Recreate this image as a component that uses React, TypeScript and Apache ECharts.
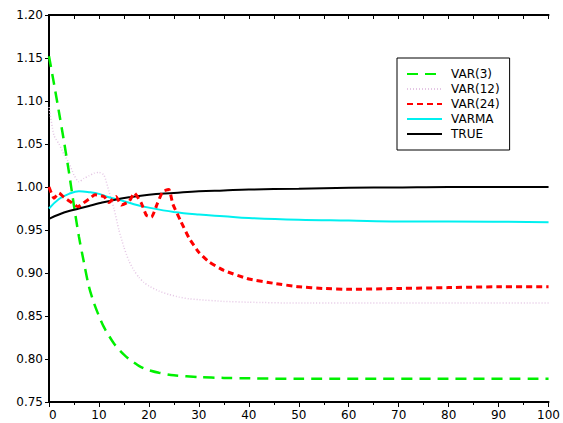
import React, { useEffect, useRef } from "react";
import * as echarts from "echarts";

const seriesNames = ["VAR(3)", "VAR(12)", "VAR(24)", "VARMA", "TRUE"];

const var3: [number, number][] = [
  [0, 1.152], [1, 1.12], [2, 1.087], [3, 1.053], [4, 1.017], [5, 0.978], [6, 0.942],
  [7, 0.912], [8, 0.884], [9, 0.865], [10, 0.85], [11, 0.837], [12, 0.827], [13, 0.818],
  [14, 0.811], [15, 0.805], [16, 0.8], [17, 0.796], [18, 0.792], [19, 0.789], [20, 0.787],
  [22, 0.784], [25, 0.781], [30, 0.779], [35, 0.778], [40, 0.7775], [50, 0.777], [100, 0.777],
];

const var12: [number, number][] = [
  [0, 1.093], [1, 1.06], [2, 1.05], [3, 1.038], [4, 1.028], [5, 1.014], [6, 1.006],
  [7, 1.01], [8, 1.013], [9, 1.016], [10, 1.017], [11, 1.014], [12, 0.995], [13, 0.975],
  [14, 0.95], [15, 0.93], [16, 0.914], [17, 0.903], [18, 0.895], [19, 0.889], [20, 0.885],
  [22, 0.879], [24, 0.875], [26, 0.872], [28, 0.87], [30, 0.869], [35, 0.867], [40, 0.866],
  [50, 0.865], [100, 0.865],
];

const var24: [number, number][] = [
  [0, 1.0], [1, 0.987], [2, 0.993], [3, 0.988], [4.5, 0.982], [5.8, 0.977], [6.8, 0.981],
  [8, 0.986], [9.2, 0.991], [11, 0.989], [12, 0.982], [13.4, 0.989], [14.5, 0.979],
  [16, 0.983], [17.1, 0.993], [18.5, 0.981], [19.5, 0.967], [20.5, 0.965], [21.7, 0.981],
  [22.8, 0.995], [24, 0.997], [24.8, 0.98], [26.4, 0.96], [28, 0.941], [30, 0.924],
  [32, 0.913], [35, 0.903], [40, 0.893], [45, 0.888], [50, 0.884], [55, 0.882], [60, 0.881],
  [70, 0.882], [80, 0.883], [90, 0.884], [100, 0.884],
];

const varma: [number, number][] = [
  [0, 0.975], [2, 0.986], [4, 0.992], [6, 0.995], [8, 0.994], [10, 0.992], [12, 0.988],
  [14, 0.985], [17, 0.98], [20, 0.976], [25, 0.971], [30, 0.968], [35, 0.966], [40, 0.964],
  [50, 0.962], [60, 0.961], [70, 0.96], [80, 0.96], [100, 0.959],
];

const trueLine: [number, number][] = [
  [0, 0.963], [2, 0.968], [4, 0.972], [6, 0.975], [8, 0.978], [10, 0.981], [13, 0.985],
  [16, 0.988], [20, 0.991], [25, 0.993], [30, 0.995], [35, 0.996], [40, 0.997], [50, 0.998],
  [60, 0.999], [70, 0.9995], [80, 1.0], [100, 1.0],
];

const FONT = "DejaVu Sans";

export default function App() {
  const ref = useRef<HTMLDivElement>(null);
  useEffect(() => {
    if (!ref.current) return;
    const chart = echarts.init(ref.current, null, { renderer: "svg" });
    const axisLine = { show: true, lineStyle: { color: "#000", width: 2 } };
    const label = { fontFamily: FONT, fontSize: 12, color: "#000" };
    chart.setOption({
      animation: false,
      backgroundColor: "#fff",
      grid: { left: 49, right: 12, top: 15, bottom: 21 },
      legend: {
        data: seriesNames,
        orient: "vertical",
        left: 397,
        top: 58,
        itemWidth: 35,
        itemHeight: 14,
        itemGap: 3,
        padding: [10, 10, 10, 9],
        borderColor: "#000",
        borderWidth: 1,
        backgroundColor: "#fff",
        itemStyle: { opacity: 0 },
        textStyle: { ...label, padding: [0, 0, 0, 4] },
      },
      xAxis: [
        {
          type: "value", position: "bottom", min: 0, max: 100, interval: 10,
          axisLine, splitLine: { show: false },
          axisTick: { show: true, length: 5, lineStyle: { color: "#000", width: 1 } },
          minorTick: { show: true, splitNumber: 2, length: 3, lineStyle: { color: "#000" } },
          axisLabel: { ...label, margin: 7, alignMinLabel: "left" },
        },
        {
          type: "value", position: "top", min: 0, max: 100, interval: 5,
          axisLine, splitLine: { show: false },
          axisTick: { show: true, inside: true, length: 4, lineStyle: { color: "#000" } },
          axisLabel: { show: false },
        },
      ],
      yAxis: [
        {
          type: "value", position: "left", min: 0.75, max: 1.2, interval: 0.05,
          axisLine, splitLine: { show: false },
          axisTick: { show: true, length: 4, lineStyle: { color: "#000" } },
          axisLabel: { ...label, margin: 6, formatter: (v: number) => v.toFixed(2) },
        },
        {
          type: "value", position: "right", min: 0.75, max: 1.2, interval: 0.05,
          axisLine, splitLine: { show: false },
          axisTick: { show: true, inside: true, length: 4, lineStyle: { color: "#000" } },
          axisLabel: { show: false },
        },
      ],
      series: [
        {
          name: "VAR(12)", type: "line", data: var12, symbol: "none", smooth: 0.2,
          lineStyle: { color: "#e4c6e4", width: 1.5, type: [1, 2] }, itemStyle: { color: "#e4c6e4" },
        },
        {
          name: "VAR(3)", type: "line", data: var3, symbol: "none", smooth: 0.3,
          lineStyle: { color: "#00f000", width: 2.5, type: [11, 7] }, itemStyle: { color: "#00f000" },
        },
        {
          name: "VARMA", type: "line", data: varma, symbol: "none", smooth: 0.4,
          lineStyle: { color: "#00f0f0", width: 2 }, itemStyle: { color: "#00f0f0" },
        },
        {
          name: "TRUE", type: "line", data: trueLine, symbol: "none", smooth: 0.4,
          lineStyle: { color: "#000", width: 2 }, itemStyle: { color: "#000" },
        },
        {
          name: "VAR(24)", type: "line", data: var24, symbol: "none", smooth: 0.15,
          lineStyle: { color: "#ff0000", width: 3, type: [6, 4] }, itemStyle: { color: "#ff0000" },
        },
      ],
    });
    return () => chart.dispose();
  }, []);
  return (
    <div
      ref={ref}
      style={{ position: "fixed", left: 0, top: 0, width: 563, height: 423 }}
    />
  );
}
